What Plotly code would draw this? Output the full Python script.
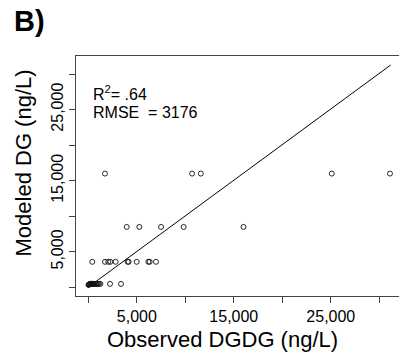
import plotly.graph_objects as go

# ---- data ----
obs_dgdg = [20, 60, 100, 150, 200, 250, 300, 350, 400, 450, 500, 600, 700, 800, 900, 1000, 1100, 1250,
            2240, 3370,
            410, 1720, 2060, 2270, 2820, 4060, 4160, 4990, 6190, 6330, 6980,
            3960, 5260, 7500, 9830, 16000,
            1720, 10700, 11600, 25100, 31100]
modeled_dg = [350, 400, 420, 450, 480, 500, 500, 500, 500, 500, 500, 500, 500, 500, 500, 500, 500, 500,
              500, 500,
              3600, 3600, 3600, 3600, 3600, 3600, 3600, 3600, 3600, 3600, 3600,
              8500, 8500, 8500, 8500, 8500,
              16000, 16000, 16000, 16000, 16000]
fit_x = [100, 31175]
fit_y = [140, 31265]

tick_vals = [0, 5000, 10000, 15000, 20000, 25000, 30000]
tick_text = ["", "5,000", "", "15,000", "", "25,000", ""]

r2_text = "R<sup>2</sup>= .64"
rmse_text = "RMSE&nbsp; = 3176"
panel_label = "<b>B)</b>"
x_title = "Observed DGDG (ng/L)"
y_title = "Modeled DG (ng/L)"

W, H = 399, 359
L, R, T, B = 76, 0, 56, 63
pw, ph = W - L - R, H - T - B


def px(x):
    return (x - L) / pw


def py(y):
    return (H - B - y) / ph


FONT = "Liberation Sans, Arial, sans-serif"

fig = go.Figure()
fig.add_trace(go.Scatter(x=fit_x, y=fit_y, mode="lines", cliponaxis=False,
                         line=dict(color="black", width=1), showlegend=False, hoverinfo="skip"))
fig.add_trace(go.Scatter(x=obs_dgdg, y=modeled_dg, mode="markers", cliponaxis=False,
                         marker=dict(symbol="circle-open", size=5, color="#111",
                                     line=dict(width=0.9, color="#111")),
                         showlegend=False))

axis_common = dict(tickvals=tick_vals, ticktext=tick_text, ticks="outside", ticklen=6,
                   tickcolor="#444", tickwidth=1, showline=True, linecolor="#444", linewidth=1,
                   showgrid=False, zeroline=False, tickfont=dict(family=FONT, size=16, color="black"))

fig.update_layout(
    width=W, height=H,
    margin=dict(l=L, r=R, t=T, b=B),
    paper_bgcolor="white", plot_bgcolor="white",
    xaxis=dict(range=[-1268, 32031], mirror=True, **axis_common),
    yaxis=dict(range=[-1207, 32530], mirror=False, tickangle=-90, **axis_common),
    font=dict(family=FONT, color="black"),
    annotations=[
        dict(text=panel_label, x=px(12), y=py(21), xref="paper", yref="paper",
             xanchor="left", yanchor="middle", showarrow=False, font=dict(size=29)),
        dict(text=x_title, x=px(222), y=py(339), xref="paper", yref="paper",
             xanchor="center", yanchor="middle", showarrow=False, font=dict(size=22)),
        dict(text=y_title, x=px(22.5), y=py(163), xref="paper", yref="paper",
             xanchor="center", yanchor="middle", showarrow=False, textangle=-90, font=dict(size=22)),
        dict(text=r2_text, x=px(91), y=py(93), xref="paper", yref="paper",
             xanchor="left", yanchor="middle", showarrow=False, font=dict(size=16)),
        dict(text=rmse_text, x=px(91), y=py(112.5), xref="paper", yref="paper",
             xanchor="left", yanchor="middle", showarrow=False, font=dict(size=16)),
    ],
)

fig.write_html("out.html",
               config={"displayModeBar": False, "staticPlot": True},
               post_script="document.body.style.margin='0';document.body.style.padding='0';"
                           "document.body.style.overflow='hidden';")
